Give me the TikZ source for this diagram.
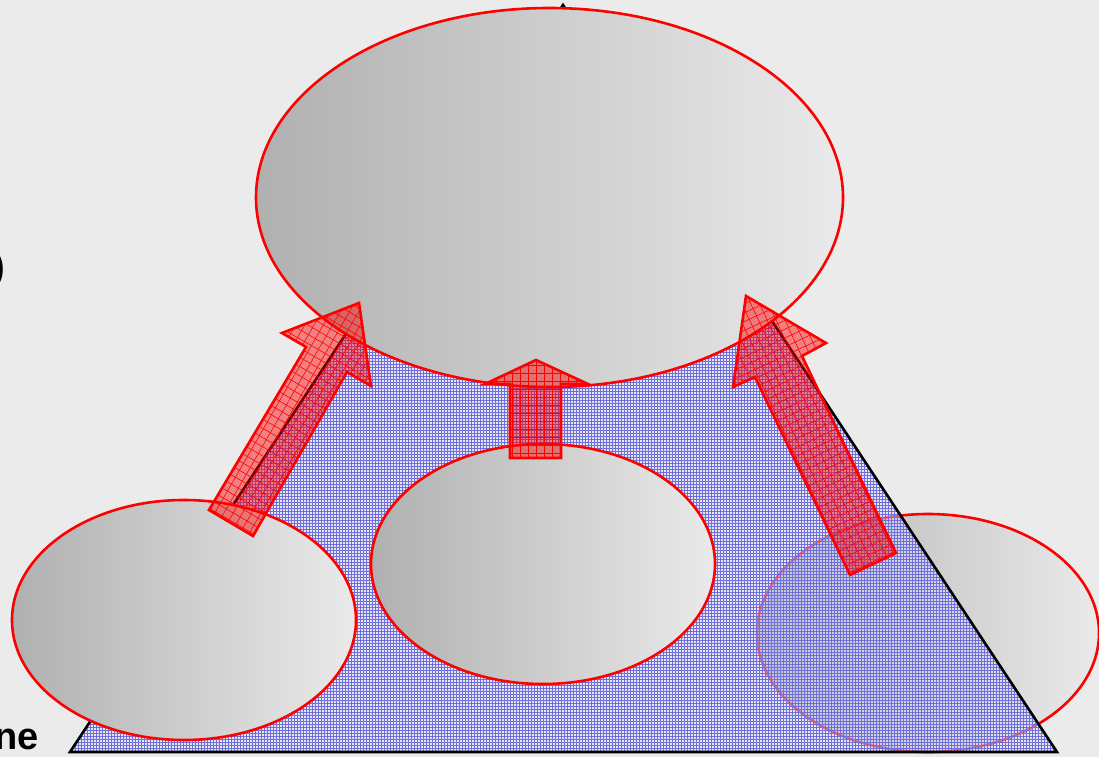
\documentclass[tikz,border=0pt]{standalone}
\usepackage{fontspec}
\setmainfont{Liberation Sans}
\usetikzlibrary{shapes.geometric,patterns,patterns.meta}
\definecolor{bggray}{RGB}{235,235,235}
\definecolor{shadeL}{RGB}{176,176,176}
\definecolor{shadeR}{RGB}{234,234,234}
\definecolor{trifill}{RGB}{225,225,252}
\definecolor{trigrid}{RGB}{110,110,220}
\definecolor{arrred}{RGB}{255,0,0}
\tikzset{
  bubble/.style={ellipse, draw=red, line width=2.6pt, inner sep=0pt,
    left color=shadeL, right color=shadeR},
  arrowbody/.style={fill=arrred, fill opacity=0.45, draw=red, draw opacity=1,
    line width=2.6pt, line join=miter},
  lbl/.style={inner sep=0pt, anchor=base west, font=\fontsize{38}{40}\selectfont\bfseries}
}
\begin{document}
\begin{tikzpicture}[x=1pt,y=-1pt]
\useasboundingbox (0,0) rectangle (1099,757);
\fill[bggray] (0,0) rectangle (1099,757);

% right bubble (under the triangle)
\node[bubble, minimum width=342pt, minimum height=238pt] (rb) at (928,633) {};

% triangle
\coordinate (tl) at (70,752);
\coordinate (tr) at (1057,752);
\coordinate (tt) at (563,5);
\fill[trifill, fill opacity=0.45] (tl) -- (tr) -- (tt) -- cycle;
\fill[pattern=grid, pattern color=trigrid, fill opacity=0.5] (tl) -- (tr) -- (tt) -- cycle;
\draw[black, line width=2.6pt] (tl) -- (tr) -- (tt) -- cycle;

% big top bubble
\node[bubble, minimum width=587pt, minimum height=379pt] (top) at (549.5,197.5) {};
% left and middle bubbles
\node[bubble, minimum width=344pt, minimum height=240pt] (lb) at (184,620) {};
\node[bubble, minimum width=344pt, minimum height=240pt] (mb) at (543,564) {};

% left arrow
\path[arrowbody] (209,510) -- (253,536) -- (347,372) -- (371,386) -- (359,303) -- (282,333) -- (306,347) -- cycle;
\fill[pattern={Lines[angle=60,distance=8pt,line width=0.6pt]}, pattern color=red] (209,510) -- (253,536) -- (347,372) -- (371,386) -- (359,303) -- (282,333) -- (306,347) -- cycle;
\fill[pattern={Lines[angle=150,distance=8pt,line width=0.6pt]}, pattern color=red] (209,510) -- (253,536) -- (347,372) -- (371,386) -- (359,303) -- (282,333) -- (306,347) -- cycle;

% middle arrow
\path[arrowbody] (510,458) -- (561,458) -- (561,384) -- (588,384) -- (536,360) -- (485,384) -- (510,384) -- cycle;
\fill[pattern={Lines[angle=0,distance=8pt,line width=0.6pt]}, pattern color=red] (510,458) -- (561,458) -- (561,384) -- (588,384) -- (536,360) -- (485,384) -- (510,384) -- cycle;
\fill[pattern={Lines[angle=90,distance=8pt,line width=0.6pt]}, pattern color=red] (510,458) -- (561,458) -- (561,384) -- (588,384) -- (536,360) -- (485,384) -- (510,384) -- cycle;

% right arrow
\path[arrowbody] (850,575) -- (896,553) -- (802,356) -- (826,343) -- (746,296) -- (733,387) -- (755,377) -- cycle;
\fill[pattern={Lines[angle=115,distance=8pt,line width=0.6pt]}, pattern color=red] (850,575) -- (896,553) -- (802,356) -- (826,343) -- (746,296) -- (733,387) -- (755,377) -- cycle;
\fill[pattern={Lines[angle=25,distance=8pt,line width=0.6pt]}, pattern color=red] (850,575) -- (896,553) -- (802,356) -- (826,343) -- (746,296) -- (733,387) -- (755,377) -- cycle;

% clipped texts at the left edge
\begin{scope}
\clip (0,0) rectangle (1099,757);
\node[lbl] (t1) at (-6,749) {ne};
\node[lbl] (t2) at (-8,279) {)};
\end{scope}
\end{tikzpicture}
\end{document}
